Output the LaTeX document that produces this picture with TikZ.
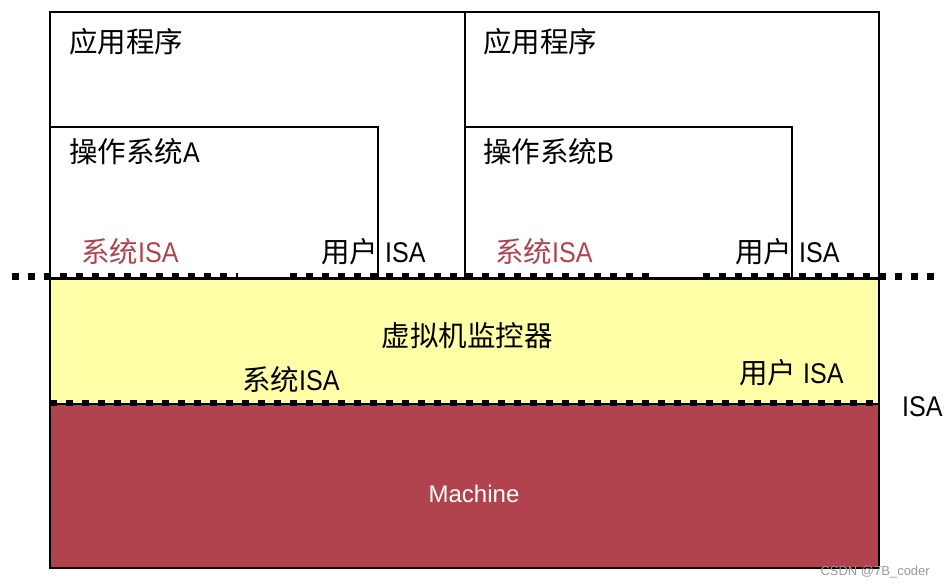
\documentclass[tikz,border=0pt]{standalone}
\usepackage{fontspec}
\setmainfont{Liberation Sans}
\newfontfamily\cjk{Noto Sans CJK SC}
\newfontfamily\narrowlat[FakeStretch=0.88]{Liberation Sans}
\definecolor{isared}{HTML}{B0444E}
\definecolor{machred}{HTML}{B0434D}
\definecolor{vmmyellow}{HTML}{FFFFA8}
\begin{document}
\begin{tikzpicture}[x=1pt,y=-1pt,
  box/.style={draw=black,line width=1.4pt},
  dotline/.style={line width=6.5pt,dash pattern=on 6.5pt off 9.5pt},
  lbl/.style={anchor=west,inner sep=0pt,font=\fontsize{28.5}{30}\selectfont\narrowlat},
  cjklbl/.style={lbl,font=\fontsize{28.5}{30}\selectfont\cjk},
  redlbl/.style={lbl,text=isared}]
\useasboundingbox (0,0) rectangle (944,588);
% application boxes
\draw[box,fill=white] (50,12) rectangle (465,278);
\draw[box,fill=white] (465,12) rectangle (879,278);
% OS boxes
\draw[box] (50,127) rectangle (378,278);
\draw[box] (465,127) rectangle (792,278);
% VMM and machine
\draw[box,fill=vmmyellow] (50,279) rectangle (879,404);
\draw[box,fill=machred] (50,404) rectangle (879,568);
% dotted ISA lines
\draw[dotline] (12,276.5) -- (238,276.5);
\draw[dotline] (290,276.5) -- (652,276.5);
\draw[dotline] (703,276.5) -- (937,276.5);
\draw[dotline] (50,403) -- (879,403);
% texts
\node[cjklbl] (appA) at (69,42) {应用程序};
\node[cjklbl] (appB) at (483,42) {应用程序};
\node[lbl] (osA) at (69,152) {{\cjk 操作系统}A};
\node[lbl] (osB) at (483,152) {{\cjk 操作系统}B};
\node[redlbl] (sysA) at (81,252) {{\cjk 系统}ISA};
\node[redlbl] (sysB) at (495,252) {{\cjk 系统}ISA};
\node[lbl] (usrA) at (321,252) {{\cjk 用户} ISA};
\node[lbl] (usrB) at (735,252) {{\cjk 用户} ISA};
\node[cjklbl,anchor=center] (vmm) at (467,336) {虚拟机监控器};
\node[lbl] (sysV) at (242,380) {{\cjk 系统}ISA};
\node[lbl] (usrV) at (739,373) {{\cjk 用户} ISA};
\node[lbl] (isa) at (902,407) {ISA};
\node[anchor=center,inner sep=0pt,text=white,font=\fontsize{24}{26}\selectfont] (mach) at (474,494) {Machine};
\node[anchor=east,inner sep=0pt,text=black!40,font=\fontsize{13}{14}\selectfont] (wm) at (930,572) {CSDN @7B\_coder};
\end{tikzpicture}
\end{document}
